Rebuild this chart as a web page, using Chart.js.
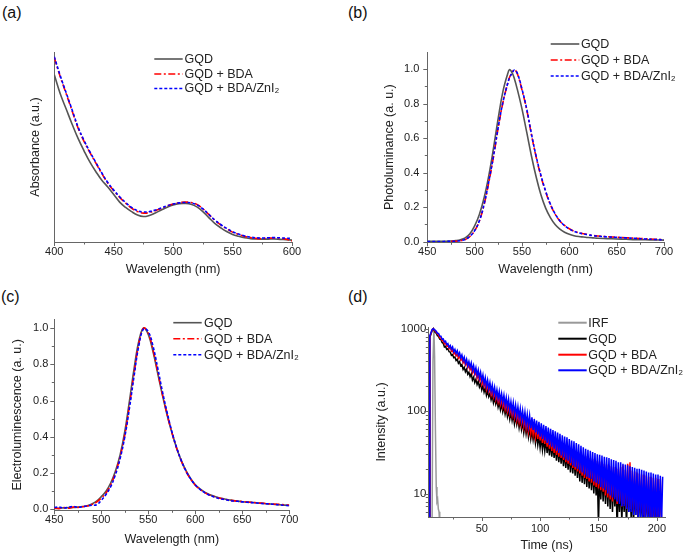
<!DOCTYPE html>
<html><head><meta charset="utf-8">
<script src="https://cdn.jsdelivr.net/npm/chart.js@4.4.1/dist/chart.umd.min.js"></script>
<style>
html,body{margin:0;padding:0;background:#fff;width:685px;height:554px;overflow:hidden;position:relative;}
.pl{position:absolute;font-family:"Liberation Sans",Arial,sans-serif;font-size:16px;line-height:16px;color:#111;}
canvas{position:absolute;}
</style></head><body>
<div class="pl" style="left:2px;top:5px">(a)</div>
<div class="pl" style="left:348px;top:5px">(b)</div>
<div class="pl" style="left:1px;top:289px">(c)</div>
<div class="pl" style="left:348px;top:289px">(d)</div>
<canvas id="ca" width="340" height="285" style="left:0;top:0"></canvas>
<canvas id="cb" width="343" height="285" style="left:342px;top:0"></canvas>
<canvas id="cc" width="340" height="277" style="left:0;top:277px"></canvas>
<canvas id="cd" width="343" height="277" style="left:342px;top:277px"></canvas>
<script>
// ---------- DATA ----------
const legendABC = ['GQD', 'GQD + BDA', 'GQD + BDA/ZnI\u2082'];
const legendD = ['IRF', 'GQD', 'GQD + BDA', 'GQD + BDA/ZnI\u2082'];

// (a) absorbance
const absWl = [400,405,410,415,420,425,430,435,440,445,450,455,460,465,470,475,480,485,490,495,500,505,510,515,520,525,530,535,540,545,550,555,560,565,570,575,580,585,590,595,600];
const absGQD = [0.88,0.78,0.70,0.62,0.545,0.48,0.42,0.37,0.325,0.29,0.25,0.21,0.182,0.16,0.142,0.134,0.14,0.153,0.168,0.183,0.195,0.202,0.203,0.199,0.185,0.16,0.128,0.098,0.075,0.055,0.04,0.03,0.022,0.018,0.016,0.015,0.015,0.016,0.014,0.012,0.01];
const absBDA = [0.97,0.87,0.78,0.69,0.60,0.53,0.47,0.415,0.36,0.31,0.27,0.235,0.205,0.178,0.16,0.152,0.155,0.165,0.177,0.19,0.2,0.207,0.21,0.208,0.198,0.175,0.145,0.115,0.09,0.07,0.052,0.04,0.03,0.023,0.019,0.018,0.02,0.021,0.02,0.015,0.006];
const absZn = [0.975,0.875,0.785,0.695,0.605,0.535,0.474,0.418,0.363,0.313,0.273,0.238,0.208,0.182,0.165,0.158,0.16,0.168,0.179,0.191,0.2,0.206,0.208,0.206,0.196,0.174,0.145,0.116,0.092,0.072,0.054,0.042,0.032,0.026,0.022,0.021,0.022,0.023,0.022,0.02,0.019];
const absXTicks = [400,450,500,550,600];
const absXMinor = [425,475,525,575];

// (b) photoluminescence
const plWl = [450,455,460,465,470,475,480,485,490,495,500,505,510,515,520,525,530,535,537,540,542,545,550,555,560,565,570,575,580,585,590,595,600,605,610,615,620,625,630,640,650,660,670,680,690,700];
const plGQD = [0.002,0.002,0.002,0.002,0.003,0.004,0.006,0.011,0.022,0.046,0.092,0.158,0.255,0.385,0.545,0.72,0.875,0.975,0.998,0.975,0.945,0.885,0.77,0.635,0.497,0.375,0.272,0.195,0.14,0.1,0.073,0.055,0.043,0.035,0.03,0.027,0.024,0.022,0.02,0.018,0.016,0.014,0.012,0.011,0.01,0.009];
const plBDA = [null,null,null,null,null,0.002,0.003,0.006,0.012,0.03,0.063,0.12,0.215,0.345,0.495,0.665,0.81,0.92,0.955,0.985,0.998,0.975,0.88,0.765,0.62,0.49,0.38,0.29,0.215,0.16,0.12,0.094,0.075,0.061,0.052,0.046,0.041,0.036,0.033,0.029,0.026,0.023,0.02,0.017,0.014,0.012];
const plZn = [0.001,0.001,0.001,0.001,0.002,0.002,0.003,0.006,0.013,0.031,0.064,0.121,0.218,0.35,0.5,0.668,0.812,0.92,0.952,0.982,0.996,0.978,0.885,0.77,0.625,0.495,0.385,0.293,0.218,0.162,0.121,0.093,0.074,0.06,0.051,0.045,0.04,0.035,0.032,0.028,0.025,0.022,0.019,0.016,0.013,0.011];
const plXTicks = [450,500,550,600,650,700];
const plXMinor = [475,525,575,625,675];
const plYTicks = [0,0.2,0.4,0.6,0.8,1.0];
const plYMinor = [0.1,0.3,0.5,0.7,0.9];

// (c) electroluminescence
const elWl = [450,455,460,465,470,475,480,485,490,495,500,505,510,515,520,525,530,535,540,545,550,555,560,565,570,575,580,585,590,595,600,605,610,615,620,625,630,635,640,645,650,655,660,665,670,675,680,685,690,695,700];
const elGQD = [0.005,0.006,0.008,0.009,0.01,0.012,0.015,0.02,0.03,0.045,0.07,0.1,0.145,0.21,0.3,0.43,0.6,0.78,0.93,1.0,0.965,0.87,0.75,0.63,0.52,0.425,0.34,0.27,0.215,0.17,0.135,0.113,0.095,0.082,0.072,0.064,0.058,0.053,0.049,0.045,0.042,0.04,0.038,0.036,0.033,0.031,0.029,0.027,0.025,0.023,0.021];
const elBDA = [0.008,0.004,0.01,0.006,0.012,0.01,0.014,0.018,0.026,0.04,0.062,0.09,0.135,0.2,0.29,0.41,0.575,0.755,0.915,1.0,0.97,0.88,0.76,0.635,0.525,0.425,0.34,0.268,0.21,0.167,0.133,0.11,0.092,0.079,0.07,0.062,0.057,0.052,0.048,0.045,0.043,0.04,0.038,0.036,0.034,0.032,0.03,0.028,0.027,0.025,0.023];
const elZn = [0.01,0.012,0.007,0.011,0.016,0.011,0.014,0.019,0.022,0.025,0.05,0.082,0.125,0.19,0.28,0.4,0.56,0.74,0.905,0.995,0.98,0.9,0.78,0.65,0.535,0.43,0.342,0.27,0.212,0.168,0.134,0.11,0.092,0.078,0.068,0.06,0.055,0.05,0.046,0.044,0.041,0.039,0.037,0.035,0.032,0.031,0.029,0.027,0.024,0.022,0.02];
const elXTicks = [450,500,550,600,650,700];
const elXMinor = [475,525,575,625,675];
const elYTicks = [0,0.2,0.4,0.6,0.8,1.0];
const elYMinor = [0.1,0.3,0.5,0.7,0.9];

// (d) time-resolved PL decay
const irfT = [7.3,8.2,9.0,9.6,10.3,11.0,11.6,12.2,12.8,13.4,14.0];
const irfI = [2,400,1000,450,60,12,8,8.5,6.5,6,4];
const decT = [4.8,5.5,7.5,8.5,
10,11,12,13,14,15,16,17,18,19,20,21,22,23,24,25,26,27,28,29,30,31,32,33,34,35,36,37,38,39,
40,41,42,43,44,45,46,47,48,49,50,51,52,53,54,55,56,57,58,59,60,61,62,63,64,65,66,67,68,69,
70,71,72,73,74,75,76,77,78,79,80,81,82,83,84,85,86,87,88,89,90,91,92,93,94,95,96,97,98,99,
100,101,102,103,104,105,106,107,108,109,110,111,112,113,114,115,116,117,118,119,120,121,122,123,124,125,126,127,128,129,
130,131,132,133,134,135,136,137,138,139,140,141,142,143,144,145,146,147,148,149,150,151,152,153,154,155,156,157,158,159,
160,161,162,163,164,165,166,167,168,169,170,171,172,173,174,175,176,177,178,179,180,181,182,183,184,185,186,187,188,189,
190,191,192,193,194,195,196,197,198,199,200,201,202,203,204,205];
const decGQD = [3,780,950,1000,
905,880,820,805,745,740,680,665,600,610,560,570,525,520,475,485,445,452,410,425,380,398,355,368,320,340,300,322,280,296,
262,284,238,258,222,244,210,230,196,214,181,204,170,190,156,178,150,164,137,155,126,146,122,138,112,128,104,122,98,114,
92,108,86,101,80,97,77,92,70,86,69,82,63,78,60,74,55,70,53,66,49,62,46,58,45,56,41,53,39,50,
36,48,34,46,33,45,31,43,29,42,28,40,27,38,25,37,24,35,23,34,21.5,32,20.5,31,19.5,30,18,29,17.5,28,
16.5,27,15.5,26,14,25,13.5,23.5,13,22.5,12,21.5,11.5,20.5,11,19.5,10,19,9.5,18.5,4,18,8.5,17.5,8,17,7.5,16.5,7,16,
6.5,15.5,6,15,7,14.5,3.5,14,6,13.5,4.5,13,6,13,4,12.5,6,12,5,12,4,11.5,5.5,11,4.5,11,5,10.5,4,10.5,
5,10,4.5,10,4,10,5,9.5,4,9.5,4.5,9,4,9,null,null];
const decBDA = [3,800,965,1000,
935,905,860,840,775,770,715,712,655,668,615,628,570,590,535,555,495,515,468,488,438,462,415,435,385,410,362,388,335,362,
318,342,292,318,275,300,250,276,236,262,212,240,200,226,182,208,172,196,157,180,148,170,137,158,128,150,120,140,112,132,
105,126,99,118,93,112,88,107,83,101,77,96,73,92,69,87,65,83,61,79,57,75,54,71,52,69,49,66,46,63,
44,60,41,58,40,62,37,53,35,51,33,49,31,46,29.5,44,28,43,27,41,25.5,39,24,38,23,37,22,35,20.5,34,
19.5,32.5,18.5,31.5,17.5,30.5,16.5,29.5,15.5,28.5,15,28,14,27,13.5,26.5,12.5,26,12,25,11.5,24.5,11,24,10.5,23,9.5,22.5,9,22,
8.5,21.5,8,21,9,20.5,7.5,20,8,21,7,22,7.5,19.5,6.5,23,7,24,6.5,19,6,18.5,6.5,18,5.5,17.5,6,17,5.5,17,
5,16.5,5.5,16,5,16,5,15.5,4.5,15.5,5,15,4.5,15,5,null];
const decZn = [3,820,975,1000,
960,930,880,875,815,810,745,750,690,705,640,660,595,625,565,600,525,560,500,540,475,512,442,480,410,452,382,425,355,400,
340,385,315,358,292,336,272,316,254,296,236,275,214,254,200,238,186,222,174,208,162,195,150,182,143,174,133,163,127,156,
118,146,112,140,104,130,99,126,93,118,88,113,84,107,78,101,74,97,69,91,66,88,62,84,59,80,55,77,52,74,
49,71,46,68,44,66,41,63,39,61,37,59,35,57,33,55,31,53,29,51,27.5,49,26,48,25,46,23.5,44,22,43,
21,41,20,39.5,19,38,18,36.5,17,35,16,34,15.5,33,15,32,14,31,13.5,30,13,29.5,12,29,11.5,28,11,27.5,10,27,
9.5,26,9,25.5,8.5,25,8,24,7.5,24,7,23,7,22.5,6.5,22,6,21.5,6,21,5.5,20.5,5.5,20,5,20,5,19.5,4.5,19,
5,18.5,4.5,18,4.5,18,4,17.5,4.5,17,4,17,4.5,16.5,4,16];
const dXTicks = [50,100,150,200];
const dXMinor = [25,75,125,175];
const dYTicks = [10,100,1000];
const dYMinor = [6,7,8,9,20,30,40,50,60,70,80,90,200,300,400,500,600,700,800,900];

// ---------- RENDER ----------
const FONT = "'Liberation Sans', Arial, sans-serif";
const AX = '#666';
const TXT = '#222';
Chart.defaults.font.family = FONT;
Chart.defaults.color = TXT;

function pts(xs, ys){ const out=[]; xs.forEach((x,i)=>{ if(ys[i]!==null && ys[i]!==undefined) out.push({x:x, y:ys[i]}); }); return out; }

const tickPlugin = {
  id: 'axisTicks',
  afterDraw(chart, args, o) {
    const ctx = chart.ctx, ca = chart.chartArea;
    ctx.save(); ctx.strokeStyle = AX; ctx.lineWidth = 1;
    const draw = (scale, vals, len, horiz) => {
      (vals||[]).forEach(v => {
        const p = Math.round(scale.getPixelForValue(v)) + 0.5;
        if (horiz && (p < ca.left - 1 || p > ca.right + 1)) return;
        if (!horiz && (p < ca.top - 1 || p > ca.bottom + 1)) return;
        ctx.beginPath();
        if (horiz) { ctx.moveTo(p, ca.bottom); ctx.lineTo(p, ca.bottom + len); }
        else { ctx.moveTo(ca.left, p); ctx.lineTo(ca.left - len, p); }
        ctx.stroke();
      });
    };
    draw(chart.scales.x, o.xMajor, 4, true);
    draw(chart.scales.x, o.xMinor, 2.5, true);
    draw(chart.scales.y, o.yMajor, 4, false);
    draw(chart.scales.y, o.yMinor, 2.5, false);
    ctx.restore();
  }
};

const legendPlugin = {
  id: 'lineLegend',
  afterDraw(chart, args, o) {
    const ctx = chart.ctx;
    ctx.save();
    ctx.font = o.font; ctx.textBaseline = 'middle'; ctx.textAlign = 'left'; ctx.fillStyle = TXT;
    o.labels.forEach((lab, i) => {
      const ds = chart.data.datasets[o.idx[i]];
      const y = o.ys[i];
      ctx.strokeStyle = ds.borderColor; ctx.lineWidth = o.lw || ds.borderWidth;
      ctx.setLineDash(ds.borderDash || []);
      ctx.beginPath(); ctx.moveTo(o.x0, y); ctx.lineTo(o.x1, y); ctx.stroke();
      ctx.setLineDash([]);
      ctx.fillText(lab, o.tx, y + 0.5);
    });
    ctx.restore();
  }
};

function line(label, data, color, dash, width, order, tension) {
  return { label, data, borderColor: color, backgroundColor: color, borderDash: dash, borderWidth: width,
           pointRadius: 0, fill: false, tension: tension, order: order };
}

function panel(id, o) {
  const tickFont = { size: 11 };
  const titleFont = { size: 12.5 };
  return new Chart(document.getElementById(id), {
    type: 'line',
    data: { datasets: o.datasets },
    options: {
      responsive: false, animation: false, events: [],
      layout: { padding: o.pad },
      plugins: { legend: { display: false }, tooltip: { enabled: false },
                 axisTicks: o.ticks, lineLegend: o.legend },
      scales: {
        x: {
          type: 'linear', min: o.xMin, max: o.xMax,
          grid: { display: false, drawTicks: false }, border: { color: AX, width: 1 },
          ticks: { font: tickFont, color: TXT, padding: o.xTickPad, autoSkip: false, maxRotation: 0,
                   callback: v => String(v) },
          title: { display: true, text: o.xTitle, font: titleFont, color: TXT, padding: { top: 0, bottom: o.xTitlePad } },
          afterFit: s => { s.height = o.xH; },
          afterBuildTicks: s => { s.ticks = o.ticks.xMajor.map(v => ({ value: v })); }
        },
        y: {
          type: o.yType || 'linear', min: o.yMin, max: o.yMax,
          grid: { display: false, drawTicks: false }, border: { color: AX, width: 1 },
          ticks: { display: o.yLabels !== false, font: { size: o.yFontSize || 11 }, color: TXT, padding: o.yTickPad, autoSkip: false,
                   callback: o.yFmt || (v => String(v)) },
          title: { display: true, text: o.yTitle, font: titleFont, color: TXT, padding: { top: o.yTitlePad, bottom: 0 } },
          afterFit: s => { s.width = o.yW; },
          afterBuildTicks: s => { s.ticks = (o.ticks.yMajor || []).map(v => ({ value: v })); }
        }
      }
    },
    plugins: [tickPlugin, legendPlugin]
  });
}

const GREY = '#555555', RED = '#ff0000', BLUE = '#0000ff';
const DASHDOT = [7, 2.5, 2, 2.5], DASH = [3, 2];
const LF = "12.5px 'Liberation Sans', Arial, sans-serif";

// (a)
panel('ca', {
  datasets: [
    line(legendABC[0], pts(absWl, absGQD), GREY, [], 1.6, 2, 0.4),
    line(legendABC[1], pts(absWl, absBDA), RED, DASHDOT, 1.6, 1, 0.4),
    line(legendABC[2], pts(absWl, absZn), BLUE, DASH, 1.6, 0, 0.4)
  ],
  pad: { left: 0, top: 52, right: 48, bottom: 0 },
  xMin: 400, xMax: 600, yMin: 0, yMax: 1,
  xH: 43, yW: 54.3, xTickPad: 3.5, yTickPad: 6, xTitlePad: 7.5, yTitlePad: 28.5,
  xTitle: 'Wavelength (nm)', yTitle: 'Absorbance (a.u.)', yLabels: false,
  ticks: { xMajor: absXTicks, xMinor: absXMinor, yMajor: [], yMinor: [] },
  legend: { labels: legendABC, idx: [0,1,2], x0: 154.3, x1: 182.7, tx: 184.5, ys: [59, 74, 88.5], font: LF }
});

// (b)
panel('cb', {
  datasets: [
    line(legendABC[0], pts(plWl, plGQD), GREY, [], 1.6, 2, 0.4),
    line(legendABC[1], pts(plWl, plBDA), RED, DASHDOT, 1.6, 1, 0.4),
    line(legendABC[2], pts(plWl, plZn), BLUE, DASH, 1.6, 0, 0.4)
  ],
  pad: { left: 0, top: 52, right: 21, bottom: 0 },
  xMin: 450, xMax: 700, yMin: -0.0035, yMax: 1.1,
  xH: 42.7, yW: 85.3, xTickPad: 3.5, yTickPad: 8, xTitlePad: 7.5, yTitlePad: 40.5,
  xTitle: 'Wavelength (nm)', yTitle: 'Photoluminance (a. u.)', yFmt: v => v.toFixed(1),
  ticks: { xMajor: plXTicks, xMinor: plXMinor, yMajor: plYTicks, yMinor: plYMinor },
  legend: { labels: legendABC, idx: [0,1,2], x0: 208.7, x1: 237.3, tx: 238.9, ys: [44, 60, 76], font: LF }
});

// (c)
panel('cc', {
  datasets: [
    line(legendABC[0], pts(elWl, elGQD), GREY, [], 1.6, 2, 0.4),
    line(legendABC[1], pts(elWl, elBDA), RED, DASHDOT, 1.6, 1, 0.4),
    line(legendABC[2], pts(elWl, elZn), BLUE, DASH, 1.6, 0, 0.4)
  ],
  pad: { left: 0, top: 42.3, right: 50.7, bottom: 0 },
  xMin: 450, xMax: 700, yMin: -0.0055, yMax: 1.048,
  xH: 43.7, yW: 54.3, xTickPad: 3.5, yTickPad: 6, xTitlePad: 7.2, yTitlePad: 9.8,
  xTitle: 'Wavelength (nm)', yTitle: 'Electroluminescence (a. u.)', yFmt: v => v.toFixed(1),
  ticks: { xMajor: elXTicks, xMinor: elXMinor, yMajor: elYTicks, yMinor: elYMinor },
  legend: { labels: legendABC, idx: [0,1,2], x0: 173.3, x1: 201.7, tx: 204, ys: [45.7, 61.7, 77.7], font: LF }
});

// (d)
panel('cd', {
  datasets: [
    line(legendD[0], pts(irfT, irfI), '#999999', [], 1.5, 3, 0),
    line(legendD[1], pts(decT, decGQD), '#000000', [], 1.5, 2, 0),
    line(legendD[2], pts(decT, decBDA), RED, [], 1.5, 1, 0),
    line(legendD[3], pts(decT, decZn), BLUE, [], 1.5, 0, 0)
  ],
  pad: { left: 0, top: 50, right: 20, bottom: 0 },
  xMin: 4.2, xMax: 207, yType: 'logarithmic', yMin: 5.2, yMax: 1047,
  xH: 37, yW: 86.3, xTickPad: 5, yTickPad: 2, xTitlePad: 1.2, yTitlePad: 32.2, yFontSize: 11.5,
  xTitle: 'Time (ns)', yTitle: 'Intensity (a.u.)',
  ticks: { xMajor: dXTicks, xMinor: dXMinor, yMajor: dYTicks, yMinor: dYMinor },
  legend: { labels: legendD, idx: [0,1,2,3], x0: 216.3, x1: 244.7, tx: 246.3, ys: [45.7, 61.7, 77.7, 93.3], font: LF, lw: 2 }
});
</script>
</body></html>
